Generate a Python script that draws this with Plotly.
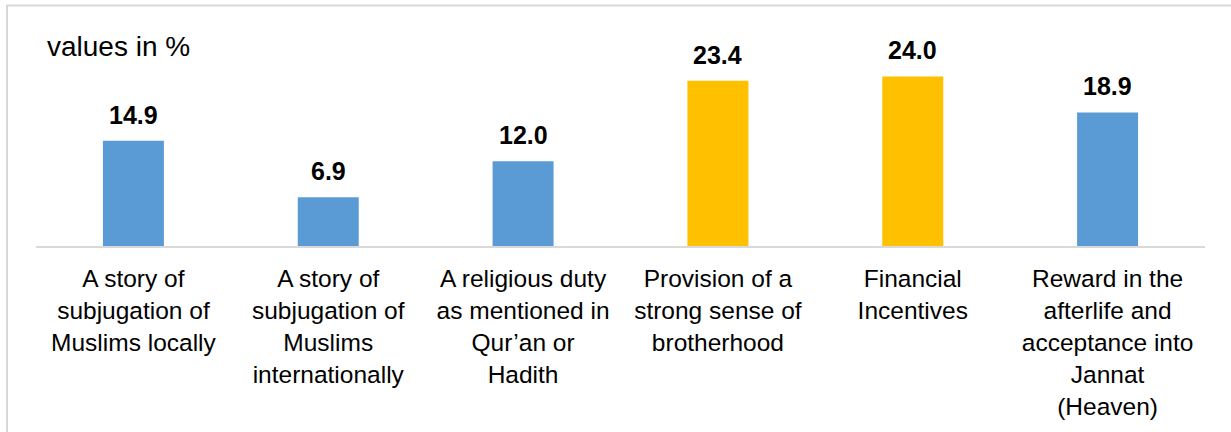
import plotly.graph_objects as go

categories = [
    "A story of<br>subjugation of<br>Muslims locally",
    "A story of<br>subjugation of<br>Muslims<br>internationally",
    "A religious duty<br>as mentioned in<br>Qur’an or<br>Hadith",
    "Provision of a<br>strong sense of<br>brotherhood",
    "Financial<br>Incentives",
    "Reward in the<br>afterlife and<br>acceptance into<br>Jannat<br>(Heaven)",
]
values = [14.9, 6.9, 12.0, 23.4, 24.0, 18.9]
highlight = [False, False, False, True, True, False]

BLUE = "#5B9BD5"
YELLOW = "#FFC000"
colors = [YELLOW if h else BLUE for h in highlight]

W, H = 1231, 432
ML, MR, MT, MB = 36, 26, 34, 183
FONT = "Liberation Sans, Arial, sans-serif"

fig = go.Figure()
fig.add_trace(go.Bar(
    x=categories, y=values, marker=dict(color=colors, line=dict(width=0)),
    width=0.313, hoverinfo="skip",
))

for c, v in zip(categories, values):
    fig.add_annotation(
        x=c, y=v, text=f"<b>{v:.1f}</b>", showarrow=False,
        yanchor="bottom", xanchor="center", yshift=10,
        font=dict(family=FONT, size=25, color="#000000"),
    )

pw = W - ML - MR
ph = H - MT - MB

def px_to_paper_x(px):
    return (px - ML) / pw

def px_to_paper_y(py):
    return (H - MB - py) / ph

fig.add_annotation(
    xref="paper", yref="paper", x=px_to_paper_x(45), y=px_to_paper_y(47),
    xanchor="left", yanchor="middle", showarrow=False,
    text="values in %", font=dict(family=FONT, size=28, color="#000000"),
)

fig.add_shape(
    type="rect", xref="paper", yref="paper",
    x0=px_to_paper_x(7), x1=px_to_paper_x(1245),
    y0=px_to_paper_y(445), y1=px_to_paper_y(5),
    line=dict(color="#D9D9D9", width=2), fillcolor="rgba(0,0,0,0)", layer="below",
)

fig.update_layout(
    width=W, height=H,
    margin=dict(l=ML, r=MR, t=MT, b=MB, pad=0),
    paper_bgcolor="white", plot_bgcolor="white",
    showlegend=False,
    font=dict(family=FONT, color="#000000"),
)
fig.update_xaxes(
    showline=True, linecolor="#D9D9D9", linewidth=2, ticks="",
    ticklabelstandoff=10,
    tickfont=dict(family=FONT, size=24.5, color="#000000"),
    tickangle=0, showgrid=False, zeroline=False, fixedrange=True,
)
fig.update_yaxes(
    range=[0, 30], visible=False, showgrid=False, zeroline=False, fixedrange=True,
)

fig.write_html("out.html", config={"displayModeBar": False})
